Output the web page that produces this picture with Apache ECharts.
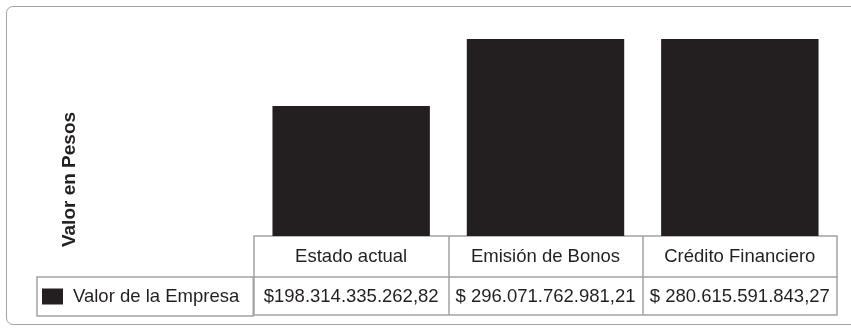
<!DOCTYPE html>
<html>
<head>
<meta charset="utf-8">
<script src="https://cdn.jsdelivr.net/npm/echarts@6/dist/echarts.min.js"></script>
<style>
  html, body { margin: 0; padding: 0; background: #ffffff; }
  #frame { position: absolute; left: 6px; top: 6px; width: 870px; height: 317px;
           border: 1.5px solid #a3a3a3; border-radius: 7px; }
  #chart { position: absolute; left: 0; top: 0; width: 851px; height: 330px; }
</style>
</head>
<body>
<div id="frame"></div>
<div id="chart"></div>
<script>
const categories = ['Estado actual', 'Emisión de Bonos', 'Crédito Financiero'];
const seriesName = 'Valor de la Empresa';
// values in thousands of millions of pesos
const values = [198.31433526282, 296.07176298121, 280.61559184327];
const valueLabels = ['$198.314.335.262,82', '$ 296.071.762.981,21', '$ 280.615.591.843,27'];
const yAxisName = 'Valor en Pesos';

const dark = '#231f20';
const lineGray = '#a3a3a3';
const font = 'Liberation Sans, Arial, Helvetica, sans-serif';

const chart = echarts.init(document.getElementById('chart'), null, { renderer: 'canvas' });
chart.setOption({
  animation: false,
  backgroundColor: 'transparent',
  grid: { left: 254, right: 14, top: 39, bottom: 94, containLabel: false },
  legend: {
    show: true,
    left: 37, top: 277,
    data: [seriesName],
    icon: 'rect',
    itemWidth: 21, itemHeight: 16,
    padding: [10, 14, 10, 5],
    borderColor: lineGray, borderWidth: 1.5, borderRadius: 0,
    textStyle: { fontFamily: font, fontSize: 18.5, color: dark, padding: [0, 0, 0, 5] },
    selectedMode: false
  },
  xAxis: [
    {
      type: 'category', data: categories, position: 'bottom', gridIndex: 0,
      axisLine: { show: true, lineStyle: { color: lineGray, width: 1.5 } },
      axisTick: { show: true, length: 41, lineStyle: { color: lineGray, width: 1.5 } },
      axisLabel: { show: true, margin: 11, fontFamily: font, fontSize: 18.5, color: dark, interval: 0 }
    },
    {
      type: 'category', data: valueLabels, position: 'bottom', offset: 41, gridIndex: 0,
      axisLine: { show: true, lineStyle: { color: lineGray, width: 1.5 } },
      axisTick: { show: true, length: 38, lineStyle: { color: lineGray, width: 1.5 } },
      axisLabel: { show: true, margin: 10, fontFamily: font, fontSize: 18.5, color: dark, interval: 0 }
    },
    {
      type: 'category', data: categories, position: 'bottom', offset: 79, gridIndex: 0,
      axisLine: { show: true, lineStyle: { color: lineGray, width: 1.5 } },
      axisTick: { show: false },
      axisLabel: { show: false }
    }
  ],
  yAxis: {
    type: 'value', min: 40, max: 280,
    name: yAxisName, nameLocation: 'middle', nameRotate: 90, nameGap: 175,
    nameTextStyle: { fontFamily: font, fontSize: 19, fontWeight: 'bold', color: dark, padding: [0, 84, 0, 0] },
    axisLine: { show: false }, axisTick: { show: false }, axisLabel: { show: false },
    splitLine: { show: false }
  },
  series: [{
    name: seriesName, type: 'bar', data: values, xAxisIndex: 0,
    barWidth: '81%', clip: true,
    itemStyle: { color: dark }
  }]
});
</script>
</body>
</html>
